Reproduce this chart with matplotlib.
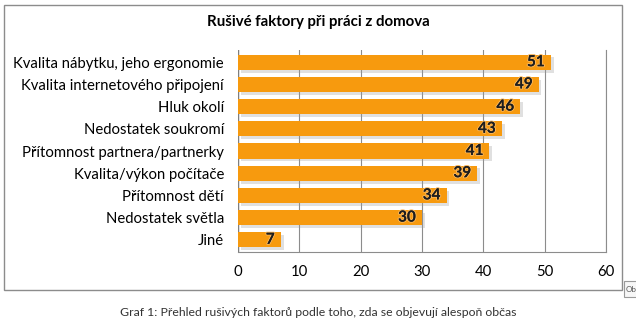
import matplotlib.pyplot as plt
import matplotlib.patheffects as pe
from matplotlib.patches import Rectangle

plt.rcParams['font.family'] = ['Lato', 'DejaVu Sans']

factors = ["Kvalita nábytku, jeho ergonomie", "Kvalita internetového připojení",
           "Hluk okolí", "Nedostatek soukromí", "Přítomnost partnera/partnerky",
           "Kvalita/výkon počítače", "Přítomnost dětí", "Nedostatek světla", "Jiné"]
counts = [51, 49, 46, 43, 41, 39, 34, 30, 7]
xticks = [0, 10, 20, 30, 40, 50, 60]

bar_color = "#F79A0E"

fig = plt.figure(figsize=(6.36, 3.29), dpi=100)
ax = fig.add_axes([0.374, 0.234, 0.579, 0.614])

ypos = list(range(len(factors)))[::-1]
bars = ax.barh(ypos, counts, height=0.68, color=bar_color, zorder=3)
for b in bars:
    b.set_path_effects([pe.SimplePatchShadow(offset=(2, -2), shadow_rgbFace="#9a9a9a", alpha=0.3),
                        pe.Normal()])

for y, v in zip(ypos, counts):
    ax.text(v - 1.0, y, str(v), ha="right", va="center", fontsize=11,
            fontweight="bold", color="#1e1e1e", zorder=4,
            path_effects=[pe.withStroke(linewidth=1.5, foreground="#F9B65A"), pe.Normal()])

ax.set_xlim(0, 60)
ax.set_ylim(-0.55, len(factors) - 0.45)
ax.set_xticks(xticks)
ax.set_yticks(ypos)
ax.set_yticklabels(factors)
ax.tick_params(axis="both", length=0, labelsize=10.7, colors="#000000")
ax.tick_params(axis="x", pad=9)
ax.tick_params(axis="y", pad=10)
ax.grid(axis="x", color="#8c8c8c", linewidth=0.8, zorder=0)
for s in ["top", "left"]:
    ax.spines[s].set_visible(False)
ax.spines["right"].set_color("#8c8c8c")
ax.spines["bottom"].set_color("#8c8c8c")
ax.axvline(0, color="#7f7f7f", linewidth=1.0, zorder=2)

fig.text(0.5, 0.932, "Rušivé faktory při práci z domova", ha="center", va="center",
         fontsize=10.8, fontweight="bold")

# outer chart frame
fig.patches.append(Rectangle((4 / 636, 1 - 290 / 329), 618 / 636, 285 / 329,
                             transform=fig.transFigure, fill=False,
                             edgecolor="#8c8c8c", linewidth=1.0))

fig.text(0.5, 1 - 313 / 329, "Graf 1: Přehled rušivých faktorů podle toho, zda se objevují alespoň občas",
         ha="center", va="center", fontsize=8.8, color="#333333")

# small tooltip box at the lower right edge
fig.patches.append(Rectangle((624 / 636, 1 - 297 / 329), 20 / 636, 16 / 329,
                             transform=fig.transFigure, facecolor="#f7f7f7",
                             edgecolor="#9a9a9a", linewidth=0.8))
fig.text(625.5 / 636, 1 - 289 / 329, "Ob", ha="left", va="center", fontsize=5.8, color="#555555")

fig.savefig("out.png", dpi=100)
